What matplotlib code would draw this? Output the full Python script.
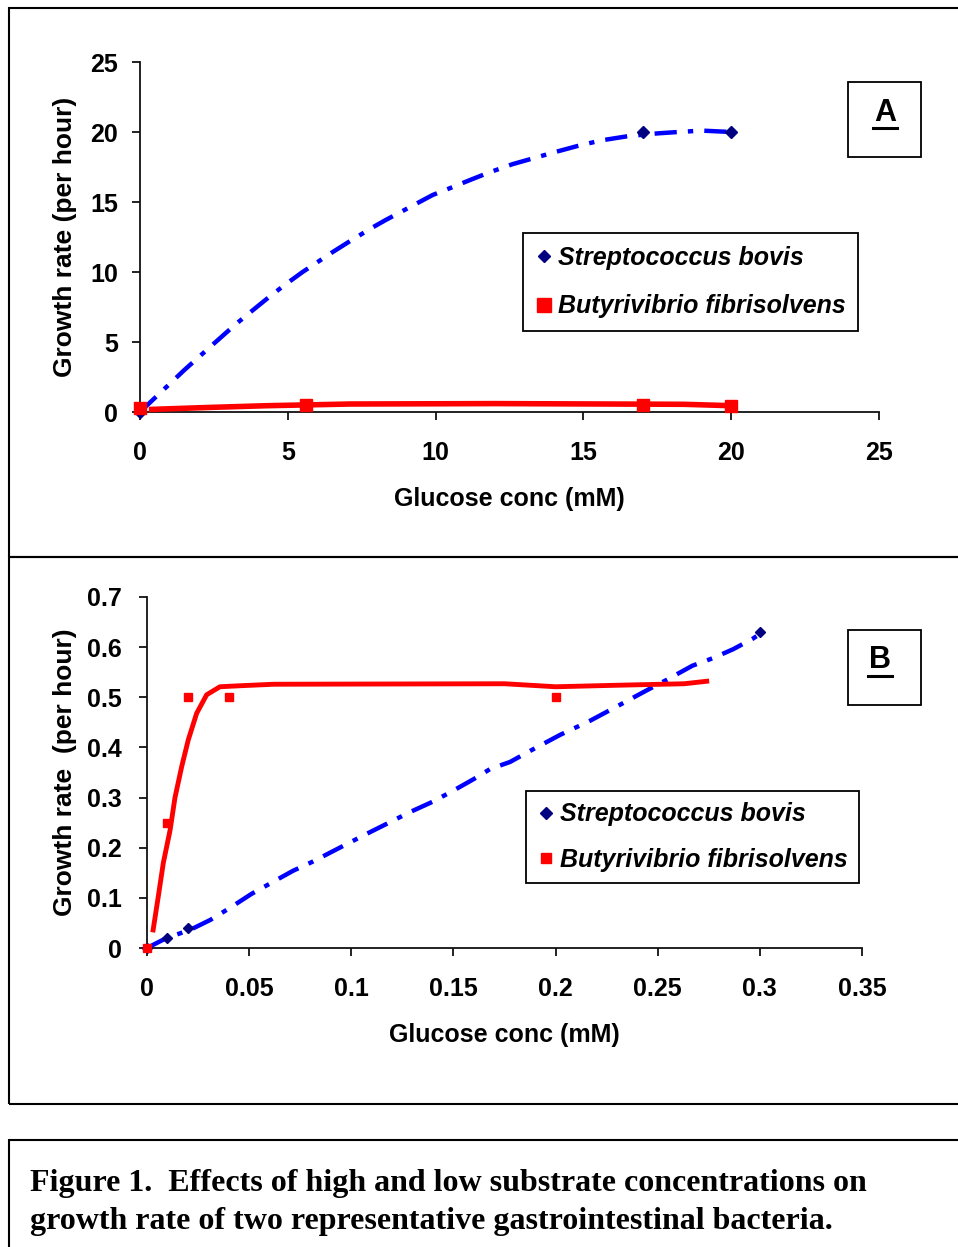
import matplotlib.pyplot as plt
from matplotlib.patches import Rectangle
from matplotlib.lines import Line2D
from matplotlib.font_manager import FontProperties

W, H = 958, 1247

# ---- panel A: high glucose concentrations (mM) ----
a_bovis_x = [0, 17, 20]
a_bovis_y = [0, 20, 20]
a_bovis_fit_x = [0, 0.6, 1.1, 1.5, 2.4, 3.2, 3.6, 4.3, 4.85, 5.5, 6.5, 7.1, 7.8, 8.3,
                 9.1, 9.9, 10.5, 11.2, 11.8, 12.6, 14.1, 14.8, 15.6, 16.5, 17.5, 18.2, 19.0, 20.0]
a_bovis_fit_y = [0, 1.2, 2.2, 3.0, 4.7, 6.2, 6.9, 8.1, 9.0, 10.0, 11.4, 12.2, 13.1, 13.7,
                 14.6, 15.5, 16.0, 16.6, 17.1, 17.7, 18.6, 19.0, 19.4, 19.7, 19.9, 20.0, 20.1, 20.0]
a_fibri_x = [0, 5.6, 17, 20]
a_fibri_y = [0.3, 0.5, 0.5, 0.45]
a_fibri_fit_x = [0.3, 2.4, 4.3, 7.1, 12, 18.4, 20]
a_fibri_fit_y = [0.18, 0.33, 0.45, 0.57, 0.6, 0.55, 0.45]
a_xticks = [0, 5, 10, 15, 20, 25]
a_yticks = [0, 5, 10, 15, 20, 25]

# ---- panel B: low glucose concentrations (mM) ----
b_bovis_x = [0, 0.01, 0.02, 0.3]
b_bovis_y = [0, 0.02, 0.04, 0.63]
b_bovis_fit_x = [0, 0.0096, 0.021, 0.031, 0.0406, 0.0512, 0.0635, 0.0715, 0.081, 0.091,
                 0.101, 0.1077, 0.118, 0.1287, 0.14, 0.15, 0.16, 0.168, 0.1777, 0.1875,
                 0.2022, 0.2168, 0.2315, 0.2447, 0.2545, 0.267, 0.277, 0.287, 0.2966, 0.301]
b_bovis_fit_y = [0, 0.02, 0.036, 0.056, 0.08, 0.108, 0.136, 0.154, 0.172, 0.193,
                 0.214, 0.228, 0.249, 0.271, 0.292, 0.314, 0.337, 0.357, 0.371, 0.393,
                 0.425, 0.453, 0.485, 0.514, 0.535, 0.563, 0.578, 0.596, 0.617, 0.629]
b_fibri_x = [0, 0.01, 0.02, 0.04, 0.2]
b_fibri_y = [0, 0.25, 0.5, 0.5, 0.5]
b_fibri_fit_x = [0.003, 0.0055, 0.008, 0.0113, 0.0137, 0.017, 0.0202, 0.0243, 0.0292,
                 0.0357, 0.0455, 0.062, 0.175, 0.2, 0.23, 0.263, 0.274]
b_fibri_fit_y = [0.036, 0.102, 0.17, 0.235, 0.30, 0.362, 0.415, 0.468, 0.505,
                 0.521, 0.523, 0.526, 0.527, 0.521, 0.524, 0.527, 0.532]
b_xticks = [0, 0.05, 0.1, 0.15, 0.2, 0.25, 0.3, 0.35]
b_xticklabels = ['0', '0.05', '0.1', '0.15', '0.2', '0.25', '0.3', '0.35']
b_yticks = [0, 0.1, 0.2, 0.3, 0.4, 0.5, 0.6, 0.7]
b_yticklabels = ['0', '0.1', '0.2', '0.3', '0.4', '0.5', '0.6', '0.7']

species = ['Streptococcus bovis', 'Butyrivibrio fibrisolvens']
caption = ['Figure 1.  Effects of high and low substrate concentrations on',
           'growth rate of two representative gastrointestinal bacteria.']

BLUE = '#0000FF'
NAVY = '#000080'
RED = '#FF0000'
SANS = 'Liberation Sans'


def fx(px):
    return px / W


def fy(py):
    return 1 - py / H


def make_axes(left, top, right, bottom):
    ax = fig.add_axes([fx(left), fy(bottom), fx(right) - fx(left), fy(top) - fy(bottom)])
    for s in ['top', 'right']:
        ax.spines[s].set_visible(False)
    for s in ['left', 'bottom']:
        ax.spines[s].set_linewidth(1.3)
        ax.spines[s].set_color('#111111')
    ax.tick_params(direction='out', length=6, width=1.3, color='#111111')
    return ax


def style_ticks(ax, xpad, ypad):
    ax.tick_params(axis='x', pad=xpad)
    ax.tick_params(axis='y', pad=ypad)
    for lab in ax.get_xticklabels() + ax.get_yticklabels():
        lab.set_fontfamily(SANS)
        lab.set_fontweight('bold')
        lab.set_fontsize(18)


def add_legend(ax, left, top, sq_ms, d_ms, spacing, pad):
    handles = [Line2D([], [], ls='none', marker='D', ms=d_ms, color=NAVY),
               Line2D([], [], ls='none', marker='s', ms=sq_ms, color=RED)]
    prop = FontProperties(family=SANS, style='italic', weight='bold', size=18)
    leg = ax.legend(handles, species, loc='upper left',
                    bbox_to_anchor=(fx(left), fy(top)), bbox_transform=fig.transFigure,
                    borderaxespad=0, fancybox=False, borderpad=pad, labelspacing=spacing,
                    handlelength=0.7, handletextpad=0.2, prop=prop)
    leg.get_frame().set_edgecolor('black')
    leg.get_frame().set_linewidth(1.3)
    leg.get_frame().set_alpha(1)


def letter_box(left, top, right, bottom, letter, cx, cy, ul_y):
    fig.add_artist(Rectangle((fx(left), fy(bottom)), fx(right) - fx(left), fy(top) - fy(bottom),
                             transform=fig.transFigure, fill=False, edgecolor='black', lw=1.3))
    fig.text(fx(cx), fy(cy), letter, ha='center', va='center', fontsize=22,
             fontweight='bold', fontfamily=SANS)
    fig.add_artist(Line2D([fx(cx - 12), fx(cx + 12)], [fy(ul_y), fy(ul_y)],
                          transform=fig.transFigure, color='black', lw=2.2))


fig = plt.figure(figsize=(W / 100, H / 100), dpi=100)

# outer panel frames (they run off the right edge)
for top, bottom in [(8, 557), (557, 1104), (1140, 1260)]:
    fig.add_artist(Rectangle((fx(9), fy(bottom)), fx(975) - fx(9), fy(top) - fy(bottom),
                             transform=fig.transFigure, fill=False, edgecolor='black', lw=1.5))

# ---- panel A ----
ax = make_axes(140, 62, 879, 412)
ax.plot(a_bovis_fit_x, a_bovis_fit_y, color=BLUE, lw=3.2, ls=(0, (5, 2.5, 1.2, 2.5)), zorder=3)
ax.plot(a_fibri_fit_x, a_fibri_fit_y, color=RED, lw=4, solid_capstyle='butt', zorder=3,
        clip_on=False)
ax.plot(a_bovis_x, a_bovis_y, ls='none', marker='D', ms=6, color=NAVY, zorder=4, clip_on=False)
ax.plot(a_fibri_x, a_fibri_y, ls='none', marker='s', ms=8, color=RED, zorder=4, clip_on=False)
ax.set_xlim(0, 25)
ax.set_ylim(0, 25)
ax.set_xticks(a_xticks)
ax.set_yticks(a_yticks)
style_ticks(ax, 15, 10)
ax.set_xlabel('Glucose conc (mM)', fontsize=18, fontweight='bold', fontfamily=SANS)
ax.set_ylabel('Growth rate (per hour)', fontsize=19, fontweight='bold', fontfamily=SANS)
ax.xaxis.set_label_coords(0.5, -0.215)
ax.yaxis.set_label_coords(-0.085, 0.5)
add_legend(ax, 523, 233, 10, 6.5, 1.0, 0.5)
letter_box(848, 82, 921, 157, 'A', 885, 113, 128)

# ---- panel B ----
bx = make_axes(147, 597, 862, 948)
bx.plot(b_bovis_fit_x, b_bovis_fit_y, color=BLUE, lw=3.2, ls=(0, (5, 2.5, 1.2, 2.5)), zorder=3)
bx.plot(b_fibri_fit_x, b_fibri_fit_y, color=RED, lw=3.5, zorder=3)
bx.plot(b_bovis_x, b_bovis_y, ls='none', marker='D', ms=5.5, color=NAVY, zorder=4, clip_on=False)
bx.plot(b_fibri_x, b_fibri_y, ls='none', marker='s', ms=5.5, color=RED, zorder=4, clip_on=False)
bx.set_xlim(0, 0.35)
bx.set_ylim(0, 0.7)
bx.set_xticks(b_xticks, b_xticklabels)
bx.set_yticks(b_yticks, b_yticklabels)
style_ticks(bx, 15, 12)
bx.set_xlabel('Glucose conc (mM)', fontsize=18, fontweight='bold', fontfamily=SANS)
bx.set_ylabel('Growth rate  (per hour)', fontsize=19, fontweight='bold', fontfamily=SANS)
bx.xaxis.set_label_coords(0.5, -0.214)
bx.yaxis.set_label_coords(-0.098, 0.5)
add_legend(bx, 526, 791, 6.5, 6.5, 0.85, 0.45)
letter_box(848, 630, 921, 705, 'B', 880, 660, 676)

# caption
for i, line in enumerate(caption):
    fig.text(fx(30), fy(1184 + 37 * i), line, ha='left', va='center', fontsize=23,
             fontweight='bold', fontfamily='Liberation Serif')

fig.savefig('out.png', dpi=100)
